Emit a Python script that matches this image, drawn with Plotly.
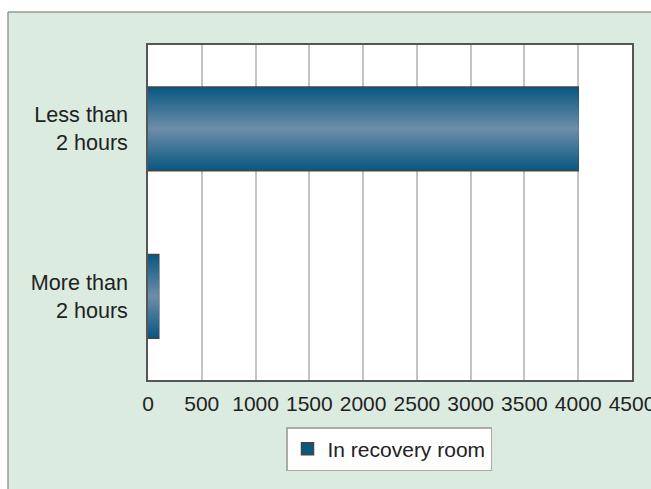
import plotly.graph_objects as go

# ---- data ----
categories = ["Less than<br>2 hours", "More than<br>2 hours"]
recovery_values = [4000, 100]
series_name = "In recovery room"
x_tick_values = [0, 500, 1000, 1500, 2000, 2500, 3000, 3500, 4000, 4500]

# ---- style ----
W, H = 651, 489
ML, MR, MT, MB = 148, 19, 45, 109
PW, PH = W - ML - MR, H - MT - MB
edge_rgb = (10, 88, 130)
center_rgb = (108, 141, 168)
bar_width = 0.5
N_LAYERS = 30
FONT = "Liberation Sans, Arial, sans-serif"
FS = 21

fig = go.Figure()
for k in range(N_LAYERS):
    f = k / (N_LAYERS - 1)
    r, g, b = [round(e + (c - e) * f) for e, c in zip(edge_rgb, center_rgb)]
    w = bar_width * (1 - k / N_LAYERS)
    fig.add_trace(go.Bar(
        y=categories, x=recovery_values, orientation="h",
        width=w,
        marker=dict(color=f"rgb({r},{g},{b})",
                    line=dict(color="#444444", width=1.5 if k == 0 else 0)),
        name=series_name, showlegend=(k == 0), hoverinfo="skip" if k else None,
    ))

def px_x(px):
    return (px - ML) / PW

def px_y(py):
    return (H - MB - py) / PH

green = "#dbebe0"
shapes = [
    dict(type="rect", xref="paper", yref="paper", x0=px_x(-5), x1=px_x(W + 5),
         y0=px_y(12), y1=px_y(-5), fillcolor="white", line=dict(width=0), layer="below"),
    dict(type="rect", xref="paper", yref="paper", x0=px_x(-5), x1=px_x(8),
         y0=px_y(H + 5), y1=px_y(-5), fillcolor="white", line=dict(width=0), layer="below"),
    dict(type="line", xref="paper", yref="paper", x0=px_x(8), x1=px_x(W + 5),
         y0=px_y(12), y1=px_y(12), line=dict(color="#999999", width=1.5)),
    dict(type="line", xref="paper", yref="paper", x0=px_x(8), x1=px_x(8),
         y0=px_y(12), y1=px_y(H + 5), line=dict(color="#999999", width=1.5)),
]

fig.update_layout(
    width=W, height=H, autosize=False,
    margin=dict(l=ML, r=MR, t=MT, b=MB, pad=0, autoexpand=False),
    paper_bgcolor=green, plot_bgcolor="white",
    barmode="overlay",
    font=dict(family=FONT, size=FS, color="#222222"),
    shapes=shapes,
    showlegend=True,
    legend=dict(orientation="h", x=px_x(389), xanchor="center",
                y=px_y(427), yanchor="top",
                bgcolor="white", bordercolor="#aaaaaa", borderwidth=1.5,
                font=dict(size=FS, family=FONT, color="#222222")),
    xaxis=dict(range=[0, 4500], tickvals=x_tick_values, showgrid=True,
               gridcolor="#c4c4c4", gridwidth=1.5, zeroline=False,
               showline=True, mirror=True, linecolor="#555555", linewidth=1.5,
               ticks="", tickfont=dict(size=FS), ticklabelstandoff=4,
               ticklabeloverflow="allow", automargin=False),
    yaxis=dict(autorange="reversed", showgrid=False, zeroline=False,
               showline=True, mirror=True, linecolor="#555555", linewidth=1.5,
               ticks="", tickfont=dict(size=21.6), ticklabelstandoff=14,
               automargin=False),
)

post = (
    "document.documentElement.style.margin='0';"
    "document.documentElement.style.overflow='hidden';"
    "document.body.style.margin='0';"
    "document.body.style.overflow='hidden';"
)

fig.write_html("out.html", post_script=post,
               config={"displayModeBar": False, "responsive": False})
